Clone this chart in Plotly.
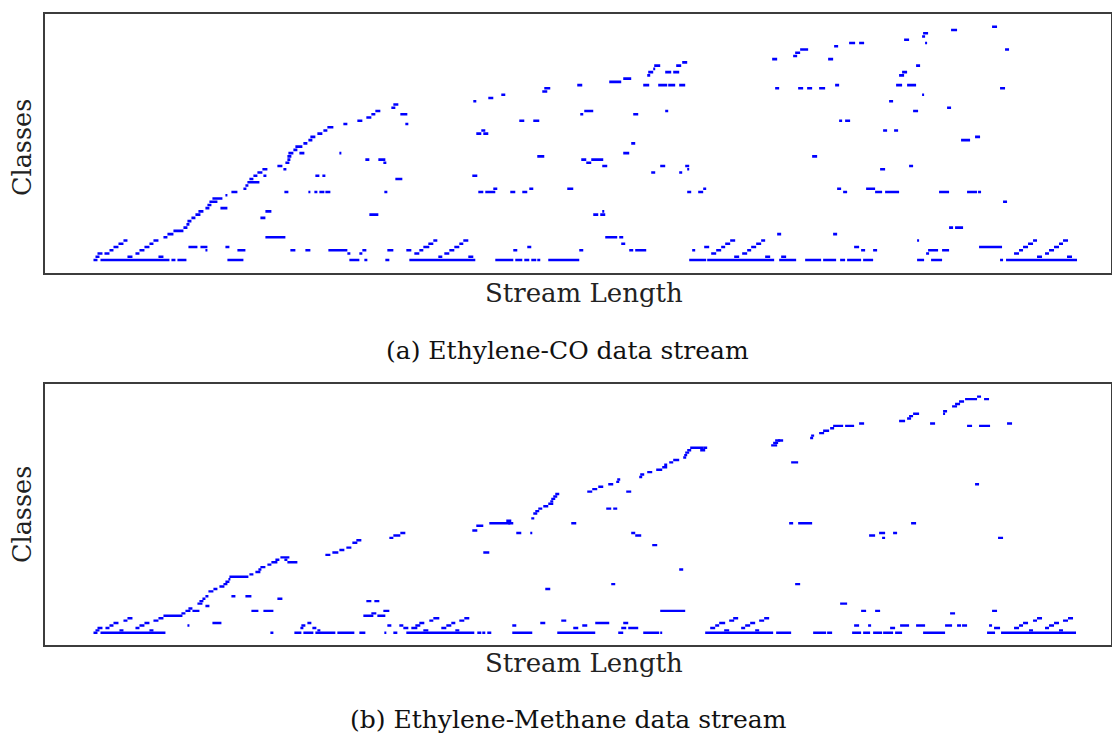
import plotly.graph_objects as go

# ---------------- Panel (a): Ethylene-CO data stream ----------------
# each run: a class label observed continuously from stream position start to end
a_cls = [0]*27 + [1]*10 + [2]*12 + [3]*25 + [4]*15 + [5]*9 + [6]*9 + [7]*4 + [8]*3 + [9] + [10]*3 + [11] + [12] + [13]*2 + [14]*4 + [15]*3 + [16]*2 + [17] + [18]*2 + [19] + [20] + [21]*19 + [22]*7 + [23] + [24] + [25]*2 + [26]*5 + [27]*3 + [28]*4 + [29]*5 + [30]*3 + [31]*5 + [32]*3 + [33]*4 + [34] + [35] + [36]*2 + [37]*2 + [38]*2 + [39]*3 + [40]*4 + [41] + [42]*2 + [43]*5 + [44] + [45]*4 + [46]*4 + [47]*2 + [48] + [49]*2 + [50] + [51]*2 + [52] + [53]*6 + [54]*8 + [55] + [56] + [57]*2 + [58]*4 + [59] + [60]*3 + [61] + [62]*2 + [63] + [64] + [65]*2 + [66] + [67]*3 + [68] + [69] + [70] + [71] + [72]
a_start = [49, 56, 127, 133, 183, 305, 320, 341, 365, 451, 471, 480, 487, 493, 504, 645, 663, 735, 761, 779, 796, 803, 819, 873, 887, 956, 962,
           51, 83, 114, 394, 424, 690, 721, 737, 993, 1023,
           53, 60, 91, 303, 315, 370, 400, 667, 698, 882, 970, 1001,
           65, 95, 161, 193, 246, 261, 284, 318, 343, 362, 375, 405, 469, 535, 585, 591, 648, 672, 703, 817, 829, 884, 898, 975, 1005,
           69, 100, 144, 156, 181, 379, 410, 483, 660, 677, 707, 810, 935, 979, 1010,
           74, 105, 384, 415, 577, 681, 712, 984, 1015,
           79, 109, 389, 419, 686, 717, 873, 989, 1019,
           119, 221, 561, 575,
           123, 733, 789,
           129,
           139, 905, 911,
           142,
           143,
           147, 216,
           151, 325, 549, 556,
           154, 221, 558,
           161, 176,
           163,
           165, 959,
           168,
           181,
           187, 240, 264, 270, 275, 281, 340, 434, 441, 466, 478, 643, 654, 799, 831, 841, 895, 923, 934,
           199, 449, 485, 523, 659, 793, 822,
           201,
           203,
           205, 351,
           209, 219, 271, 278, 428,
           213, 607, 635,
           218, 239, 643, 836,
           233, 558, 616, 641, 865,
           241, 339, 542,
           243, 321, 334, 537, 547,
           243, 493, 768,
           244, 255, 295, 579,
           249,
           251,
           259, 587,
           264, 917,
           266, 931,
           273, 432, 439,
           279, 437, 839, 850,
           283,
           299, 361,
           313, 475, 489, 795, 801,
           322,
           327, 356, 536, 589,
           331, 540, 621, 869,
           347, 903,
           349,
           429, 845,
           444,
           457, 878,
           498,
           500, 731, 754, 763, 775, 956,
           533, 599, 614, 624, 635, 791, 852, 863,
           565,
           579,
           603, 855,
           604, 621, 629, 858,
           609,
           610, 632, 872,
           638,
           728, 784,
           749,
           751,
           756, 961,
           790,
           805, 815, 881,
           860,
           878,
           879,
           907,
           948]
a_end = [53, 125, 131, 142, 199, 315, 323, 345, 431, 469, 478, 485, 492, 496, 535, 662, 730, 752, 777, 792, 801, 817, 829, 880, 898, 959, 1033,
         55, 88, 119, 398, 429, 695, 726, 742, 998, 1028,
         58, 65, 95, 306, 318, 375, 405, 672, 703, 885, 975, 1005,
         69, 100, 163, 201, 251, 266, 303, 322, 349, 367, 379, 410, 473, 539, 589, 602, 651, 677, 707, 821, 833, 894, 905, 979, 1010,
         74, 105, 153, 163, 185, 385, 415, 487, 665, 681, 712, 815, 958, 984, 1015,
         79, 109, 389, 419, 581, 686, 717, 989, 1019,
         83, 114, 393, 424, 691, 721, 875, 993, 1024,
         123, 241, 573, 579,
         129, 737, 793,
         139,
         143, 909, 919,
         145,
         147,
         151, 221,
         156, 334, 554, 561,
         159, 227, 560,
         165, 183,
         167,
         173, 963,
         178,
         183,
         193, 244, 266, 273, 280, 286, 343, 439, 451, 471, 483, 647, 659, 803, 838, 855, 905, 933, 937,
         202, 453, 489, 529, 662, 797, 831,
         204,
         215,
         209, 358,
         213, 222, 275, 281, 433,
         218, 611, 638,
         223, 242, 645, 841,
         238, 563, 621, 645, 869,
         245, 342, 547,
         246, 325, 341, 542, 559,
         247, 500, 773,
         249, 260, 297, 585,
         253,
         258,
         263, 591,
         268, 926,
         271, 936,
         278, 437, 444,
         283, 441, 843, 854,
         289,
         303, 364,
         318, 480, 495, 798, 806,
         327,
         331, 363, 539, 594,
         336, 549, 624, 874,
         351, 907,
         354,
         432, 849,
         449,
         461, 880,
         503,
         506, 735, 759, 768, 781, 961,
         538, 605, 623, 631, 641, 795, 858, 872,
         577,
         587,
         606, 860,
         609, 627, 635, 863,
         611,
         616, 637, 876,
         643,
         733, 789,
         753,
         756,
         764, 965,
         794,
         811, 820, 883,
         865,
         881,
         884,
         913,
         953]

# ---------------- Panel (b): Ethylene-Methane data stream ----------------
b_cls = [0]*31 + [1]*10 + [2]*17 + [3]*22 + [4]*13 + [5]*9 + [6]*8 + [7]*3 + [8]*3 + [9]*9 + [10] + [11] + [12]*2 + [13]*3 + [14]*2 + [15]*3 + [17] + [18]*2 + [19] + [20]*3 + [21] + [22] + [23] + [24] + [25] + [26]*2 + [27] + [28] + [29]*2 + [30]*2 + [31] + [32] + [33]*2 + [34] + [35] + [36] + [37] + [38] + [39]*3 + [40]*3 + [41]*6 + [42] + [44] + [45]*6 + [46] + [47] + [49] + [50] + [51]*3 + [52] + [53] + [54] + [55] + [56] + [57] + [58]*2 + [59] + [60] + [61]*2 + [62] + [63] + [64] + [65] + [66] + [67] + [68] + [69] + [70]*2 + [71] + [72] + [73] + [74] + [75]*2 + [76]*2 + [77] + [78] + [79]*2 + [80] + [81] + [82] + [83] + [84] + [85]*4 + [86]*3 + [87] + [88] + [89] + [90]*2 + [91] + [93] + [94] + [95] + [96]*2 + [97]
b_start = [49, 56, 226, 250, 259, 271, 293, 315, 340, 349, 362, 433, 438, 443, 468, 513, 574, 599, 616, 661, 732, 769, 783, 808, 819, 829, 839, 851, 879, 943, 957,
           51, 75, 105, 273, 379, 411, 680, 711, 985, 1015,
           53, 61, 91, 256, 268, 359, 367, 397, 529, 577, 584, 666, 697, 846, 950, 970, 1001,
           65, 95, 143, 257, 343, 355, 371, 402, 468, 538, 671, 701, 810, 824, 856, 872, 901, 913, 918, 945, 975, 1005,
           69, 100, 168, 263, 375, 407, 496, 551, 579, 675, 706, 979, 1010,
           79, 109, 385, 415, 517, 685, 715, 989, 1019,
           83, 114, 389, 420, 689, 720, 993, 1024,
           119, 319, 333,
           137, 327, 906,
           141, 148, 207, 219, 339, 616, 817, 831, 948,
           144,
           161,
           153, 796,
           155, 322, 330,
           158, 233,
           161, 187, 201,
           164,
           169, 501,
           175,
           179, 567, 751,
           181,
           184,
           185,
           205,
           211,
           214, 635,
           216,
           223,
           227, 243,
           231, 240,
           236,
           281,
           288, 439,
           295,
           302,
           608,
           308,
           312,
           345, 838, 954,
           349, 591, 825,
           356, 472, 486, 587, 835, 849,
           428,
           432,
           445, 464, 527, 745, 754, 867,
           462,
           487,
           489,
           491,
           494, 562, 569,
           499,
           504,
           506,
           507,
           509,
           511,
           543, 582,
           548,
           554,
           564, 931,
           572,
           573,
           595,
           596,
           603,
           612,
           618,
           620,
           625, 747,
           629,
           639,
           640,
           641,
           643, 656,
           646, 659,
           727,
           729,
           731, 734,
           766,
           767,
           775,
           779,
           786,
           789, 801, 923, 935,
           815, 886, 963,
           855,
           863,
           865,
           869, 899,
           899,
           908,
           911,
           915,
           921, 940,
           933]
b_end = [53, 121, 229, 257, 269, 291, 310, 321, 342, 353, 430, 437, 441, 447, 488, 551, 579, 615, 618, 729, 747, 782, 788, 817, 826, 838, 849, 858, 901, 951, 1032,
         55, 79, 109, 276, 384, 415, 685, 715, 989, 1019,
         58, 65, 95, 259, 272, 364, 373, 402, 534, 582, 594, 671, 701, 851, 956, 975, 1005,
         69, 100, 145, 261, 347, 359, 376, 407, 472, 543, 675, 706, 815, 827, 865, 881, 908, 917, 923, 948, 979, 1010,
         74, 105, 177, 267, 380, 411, 501, 565, 584, 681, 711, 984, 1015,
         83, 114, 389, 420, 522, 690, 720, 993, 1024,
         88, 119, 395, 425, 694, 725, 998, 1029,
         138, 329, 341,
         141, 332, 911,
         146, 155, 214, 229, 345, 641, 822, 836, 953,
         148,
         165,
         158, 803,
         159, 327, 335,
         161, 238,
         164, 191, 207,
         169,
         173, 506,
         180,
         183, 571, 756,
         185,
         186,
         204,
         209,
         216,
         217, 639,
         221,
         227,
         233, 253,
         235, 243,
         245,
         286,
         294, 445,
         300,
         307,
         613,
         313,
         317,
         349, 841, 959,
         356, 597, 831,
         361, 477, 488, 591, 841, 853,
         433,
         439,
         466, 469, 532, 749, 768, 872,
         467,
         490,
         493,
         495,
         498, 567, 573,
         504,
         509,
         509,
         511,
         513,
         515,
         548, 587,
         553,
         559,
         569, 935,
         575,
         576,
         598,
         600,
         608,
         618,
         623,
         623,
         629, 754,
         635,
         642,
         643,
         645,
         647, 661,
         659, 663,
         733,
         734,
         736, 739,
         769,
         770,
         780,
         785,
         790,
         799, 810, 928, 946,
         820, 891, 968,
         861,
         867,
         869,
         875, 901,
         903,
         913,
         916,
         920,
         933, 945,
         937]

captions = ["(a) Ethylene-CO data stream", "(b) Ethylene-Methane data stream"]
x_title = "Stream Length"
y_title = "Classes"


def segments(starts, ends, classes):
    xs, ys = [], []
    for s, e, c in zip(starts, ends, classes):
        xs += [s, e, None]
        ys += [c, c, None]
    return xs, ys


W, H = 1112, 737
fig = go.Figure()
xa, ya = segments(a_start, a_end, a_cls)
xb, yb = segments(b_start, b_end, b_cls)
fig.add_trace(go.Scatter(x=xa, y=ya, mode="lines", line=dict(color="#0000ff", width=2.6),
                         xaxis="x", yaxis="y", hoverinfo="skip", showlegend=False))
fig.add_trace(go.Scatter(x=xb, y=yb, mode="lines", line=dict(color="#0000ff", width=2.4),
                         xaxis="x2", yaxis="y2", hoverinfo="skip", showlegend=False))

x0p, x1p = 44.5, 1111
axis_common = dict(showline=True, mirror=True, linecolor="#3c3c3c", linewidth=1.6,
                   showticklabels=False, ticks="", showgrid=False, zeroline=False)
fig.update_layout(
    width=W, height=H, margin=dict(l=0, r=0, t=0, b=0),
    paper_bgcolor="white", plot_bgcolor="white",
    xaxis=dict(domain=[x0p / W, x1p / W], range=[0, x1p - 44], anchor="y", **axis_common),
    yaxis=dict(domain=[1 - 272.5 / H, 1 - 13.5 / H], range=[-3.86, 76.1], anchor="x", **axis_common),
    xaxis2=dict(domain=[x0p / W, x1p / W], range=[0, x1p - 44], anchor="y2", **axis_common),
    yaxis2=dict(domain=[1 - 644.5 / H, 1 - 383.5 / H], range=[-4.8, 102.4], anchor="x2", **axis_common),
)

serif = "DejaVu Serif"
ann = []
for (xl_y, cap_y, cl_y, cap, cap_x) in [(293, 351, 148, captions[0], 567), (663, 719, 515, captions[1], 568)]:
    ann.append(dict(text=x_title, x=584 / W, y=1 - xl_y / H, xref="paper", yref="paper",
                    xanchor="center", yanchor="middle",
                    showarrow=False, font=dict(family=serif, size=26, color="#222")))
    ann.append(dict(text=cap, x=cap_x / W, y=1 - cap_y / H, xref="paper", yref="paper",
                    xanchor="center", yanchor="middle",
                    showarrow=False, font=dict(family=serif, size=25, color="#111")))
    ann.append(dict(text=y_title, x=22 / W, y=1 - cl_y / H, xref="paper", yref="paper",
                    xanchor="center", yanchor="middle",
                    textangle=-90, showarrow=False, font=dict(family=serif, size=25.5, color="#222")))
fig.update_layout(annotations=ann)

fig.write_html("out.html")
